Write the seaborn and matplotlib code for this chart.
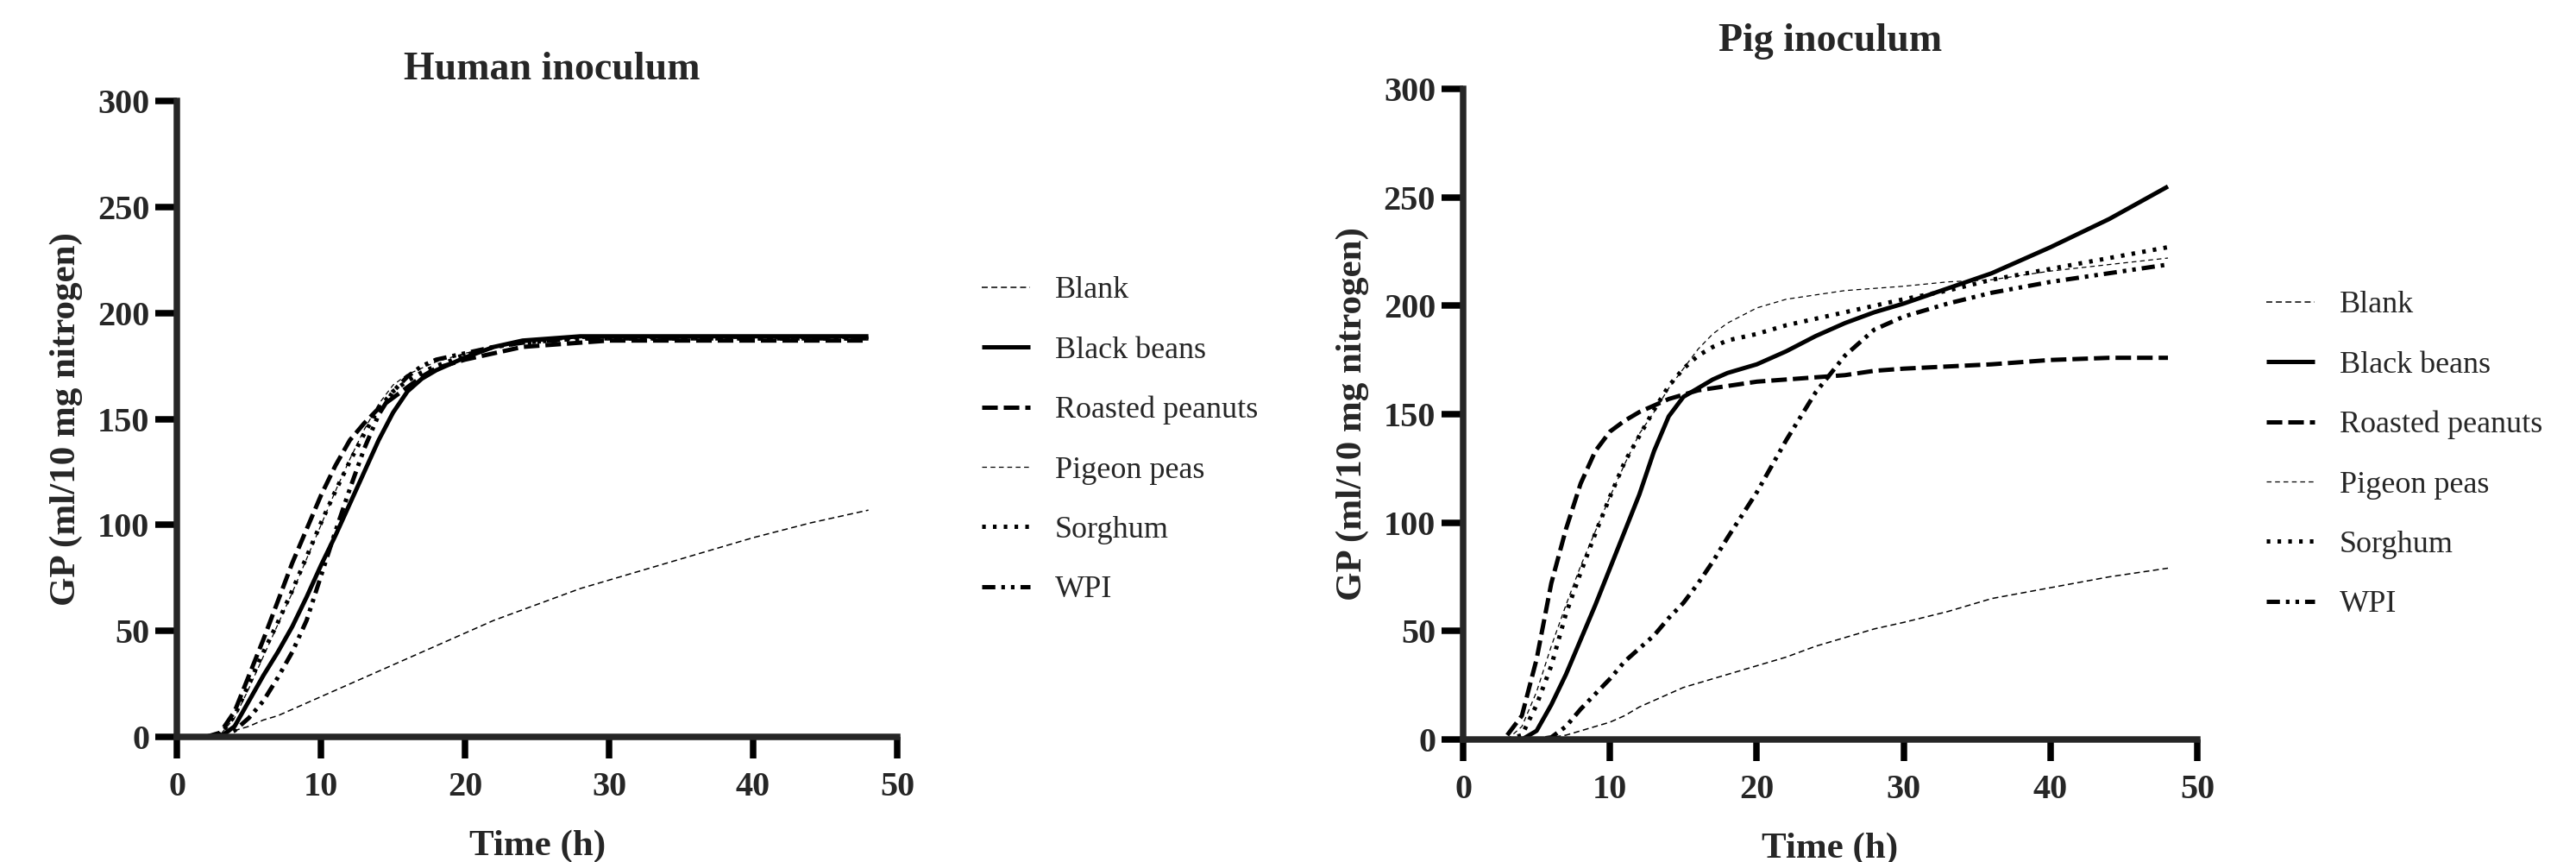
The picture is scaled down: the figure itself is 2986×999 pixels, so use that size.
import numpy as np
import pandas as pd
import matplotlib
matplotlib.use("Agg")
import matplotlib.pyplot as plt
import seaborn as sns

# ---- data: cumulative gas production (ml / 10 mg nitrogen) ----
SUBSTRATES = ["Blank", "Black beans", "Roasted peanuts", "Pigeon peas", "Sorghum", "WPI"]

human_hours = [2, 3, 4, 5, 6, 7, 8, 9, 10, 11, 12, 13, 14, 15, 16, 17, 18,
               20, 22, 24, 26, 28, 30, 33, 36, 40, 44, 48]
human_blank = [0, 1, 3, 5, 8, 10, 13, 16, 19, 22, 25, 28, 31, 34, 37, 40, 43,
               49, 55, 60, 65, 70, 74, 80, 86, 94, 101, 107]
human_black_beans = [0, 0, 5, 17, 29, 40, 52, 66, 81, 95, 110, 125, 140, 153, 163, 169, 173,
                     179, 184, 187, 188, 189, 189, 189, 189, 189, 189, 189]
human_roasted_peanuts = [0, 2, 12, 29, 46, 64, 82, 98, 114, 128, 140, 148, 155, 160, 165, 170, 174,
                         178, 181, 184, 185, 186, 187, 187, 187, 187, 187, 187]
human_pigeon_peas = [0, 1, 9, 23, 38, 53, 68, 84, 100, 116, 131, 145, 157, 166, 171, 174, 177,
                     181, 184, 186, 187, 188, 188, 188, 188, 188, 188, 188]
human_sorghum = [0, 1, 10, 25, 40, 54, 69, 85, 101, 116, 130, 143, 155, 163, 168, 172, 175,
                 180, 184, 186, 187, 188, 188, 188, 188, 188, 188, 188]
human_wpi = [0, 0, 3, 9, 17, 28, 40, 55, 76, 97, 117, 136, 152, 163, 170, 175, 178,
             181, 184, 186, 187, 188, 188, 188, 188, 188, 188, 188]

pig_hours = [3, 4, 5, 6, 7, 8, 9, 10, 11, 12, 13, 14, 15, 16, 17, 18,
             20, 22, 24, 26, 28, 30, 33, 36, 40, 44, 48]
pig_blank = [0, 0, 0, 1, 2, 4, 6, 8, 11, 15, 18, 21, 24, 26, 28, 30,
             34, 38, 43, 47, 51, 54, 59, 65, 70, 75, 79]
pig_black_beans = [0, 0, 4, 16, 30, 46, 62, 79, 96, 113, 133, 149, 158, 162, 166, 169,
                   173, 179, 186, 192, 197, 201, 208, 215, 227, 240, 255]
pig_roasted_peanuts = [2, 11, 37, 72, 97, 118, 133, 142, 147, 151, 154, 157, 159, 161, 162, 163,
                       165, 166, 167, 168, 170, 171, 172, 173, 175, 176, 176]
pig_pigeon_peas = [0, 6, 22, 43, 62, 80, 96, 112, 127, 141, 151, 162, 171, 180, 187, 192,
                   199, 203, 205, 207, 208, 209, 211, 212, 216, 219, 222]
pig_sorghum = [0, 2, 16, 34, 58, 77, 95, 112, 128, 140, 152, 163, 171, 177, 181, 184,
               187, 191, 194, 197, 200, 203, 207, 212, 217, 222, 227]
pig_wpi = [0, 0, 0, 1, 6, 14, 21, 28, 36, 42, 48, 56, 63, 72, 82, 93,
           114, 138, 160, 177, 189, 195, 201, 206, 211, 215, 219]

X_TICKS = [0, 10, 20, 30, 40, 50]
Y_TICKS = [0, 50, 100, 150, 200, 250, 300]

human = {"Blank": human_blank, "Black beans": human_black_beans,
         "Roasted peanuts": human_roasted_peanuts, "Pigeon peas": human_pigeon_peas,
         "Sorghum": human_sorghum, "WPI": human_wpi}
pig = {"Blank": pig_blank, "Black beans": pig_black_beans,
       "Roasted peanuts": pig_roasted_peanuts, "Pigeon peas": pig_pigeon_peas,
       "Sorghum": pig_sorghum, "WPI": pig_wpi}


def long_frame(hours, series):
    rows = []
    for name in SUBSTRATES:
        for h, v in zip(hours, series[name]):
            rows.append({"Time": h, "GP": v, "Substrate": name})
    return pd.DataFrame(rows)


# ---- styling ----
sns.set_style("ticks")
plt.rcParams["font.family"] = ["Liberation Serif", "DejaVu Serif"]
plt.rcParams["lines.scale_dashes"] = False

# line width (pt) and dash pattern (pt) per substrate
STYLE = {
    "Blank":           dict(lw=1.1, ls=(0, (5, 3))),
    "Black beans":     dict(lw=3.6, ls="-"),
    "Roasted peanuts": dict(lw=3.6, ls=(0, (13, 5))),
    "Pigeon peas":     dict(lw=0.9, ls=(0, (4, 3))),
    "Sorghum":         dict(lw=3.6, ls=(0, (3, 6))),
    "WPI":             dict(lw=3.6, ls=(0, (11, 5, 3, 5, 3, 5))),
}

SPINE_W = 5.4
TICK_FS = 29
LABEL_FS = 31
TITLE_FS = 33
LEGEND_FS = 26

fig = plt.figure(figsize=(29.86, 9.99), dpi=100)
ax1 = fig.add_axes([0.0687, 0.1451, 0.2796, 0.7377])
ax2 = fig.add_axes([0.568, 0.1421, 0.285, 0.7548])


def draw_panel(ax, df, title, title_x, title_pad, legend_anchor):
    for name in SUBSTRATES:
        sub = df[df["Substrate"] == name]
        st = STYLE[name]
        sns.lineplot(data=sub, x="Time", y="GP", ax=ax, color="black",
                     linewidth=st["lw"], linestyle=st["ls"], label=name,
                     dash_capstyle="butt", solid_capstyle="butt")
    ax.set_xlim(0, 50)
    ax.set_ylim(0, 300)
    ax.set_xticks(X_TICKS)
    ax.set_yticks(Y_TICKS)
    sns.despine(ax=ax)
    for side in ("left", "bottom"):
        ax.spines[side].set_linewidth(SPINE_W)
        ax.spines[side].set_capstyle("projecting")
    ax.tick_params(axis="both", width=SPINE_W, length=18, labelsize=TICK_FS,
                   direction="out", color="black")
    ax.tick_params(axis="x", pad=11)
    ax.tick_params(axis="y", pad=5)
    for lab in ax.get_xticklabels() + ax.get_yticklabels():
        lab.set_fontweight("bold")
    ax.set_xlabel("Time (h)", fontsize=LABEL_FS, fontweight="bold", labelpad=22)
    ax.set_ylabel("GP (ml/10 mg nitrogen)", fontsize=LABEL_FS, fontweight="bold", labelpad=12)
    ax.set_title(title, fontsize=TITLE_FS, fontweight="bold", pad=title_pad, x=title_x)
    handles, labels = ax.get_legend_handles_labels()
    ax.legend(handles, labels, loc="upper left", bbox_to_anchor=legend_anchor,
              bbox_transform=fig.transFigure, frameon=False, fontsize=LEGEND_FS,
              handlelength=1.55, handletextpad=0.8, labelspacing=1.0, borderpad=0,
              borderaxespad=0)


draw_panel(ax1, long_frame(human_hours, human), "Human inoculum", 0.52, 18,
           (0.381, 1 - 320 / 999))
draw_panel(ax2, long_frame(pig_hours, pig), "Pig inoculum", 0.5, 32,
           (0.8798, 1 - 337 / 999))

fig.savefig("out.png", dpi=100)
